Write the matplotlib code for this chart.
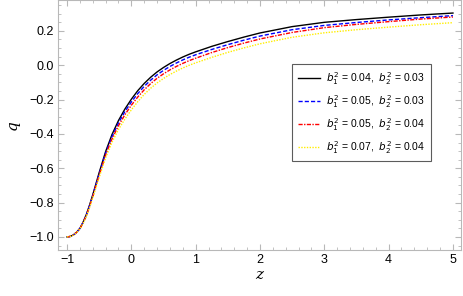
import numpy as np
import matplotlib.pyplot as plt
from matplotlib.ticker import MultipleLocator

plt.rcParams['font.family'] = ['Liberation Sans', 'DejaVu Sans']
plt.rcParams['mathtext.fontset'] = 'dejavusans'

# values
z = [-1.0, -0.95, -0.9, -0.85, -0.8, -0.75, -0.7, -0.65, -0.6, -0.55, -0.5, -0.4, -0.3,
     -0.2, -0.1, 0.0, 0.1, 0.2, 0.3, 0.4, 0.5, 0.6, 0.7, 0.8, 0.9, 1.0, 1.25, 1.5, 1.75,
     2.0, 2.5, 3.0, 3.5, 4.0, 4.5, 5.0]

q_black = [-1.0, -0.997, -0.988, -0.972, -0.95, -0.914, -0.87, -0.815, -0.755, -0.69,
           -0.625, -0.503, -0.403, -0.322, -0.255, -0.198, -0.148, -0.106, -0.07, -0.039,
           -0.013, 0.01, 0.03, 0.048, 0.064, 0.078, 0.11, 0.138, 0.164, 0.188, 0.225,
           0.25, 0.266, 0.28, 0.293, 0.304]
q_blue = [-1.0, -0.997, -0.988, -0.973, -0.951, -0.916, -0.873, -0.819, -0.76, -0.696,
          -0.633, -0.513, -0.415, -0.336, -0.27, -0.214, -0.165, -0.123, -0.087, -0.056,
          -0.03, -0.007, 0.013, 0.031, 0.047, 0.061, 0.092, 0.12, 0.146, 0.17, 0.207,
          0.232, 0.249, 0.264, 0.277, 0.289]
q_red = [-1.0, -0.997, -0.988, -0.973, -0.952, -0.918, -0.876, -0.823, -0.765, -0.703,
         -0.641, -0.524, -0.429, -0.352, -0.288, -0.233, -0.185, -0.143, -0.107, -0.076,
         -0.05, -0.027, -0.007, 0.011, 0.027, 0.041, 0.074, 0.103, 0.129, 0.153, 0.191,
         0.219, 0.238, 0.254, 0.269, 0.281]
q_yellow = [-1.0, -0.997, -0.989, -0.974, -0.954, -0.921, -0.881, -0.829, -0.773, -0.713,
            -0.653, -0.54, -0.448, -0.374, -0.313, -0.26, -0.212, -0.17, -0.134, -0.103,
            -0.077, -0.054, -0.034, -0.016, 0.0, 0.014, 0.046, 0.075, 0.101, 0.125, 0.163,
            0.189, 0.207, 0.222, 0.236, 0.248]

labels = [r"$b_1^2$ = 0.04,  $b_2^2$ = 0.03",
          r"$b_1^2$ = 0.05,  $b_2^2$ = 0.03",
          r"$b_1^2$ = 0.05,  $b_2^2$ = 0.04",
          r"$b_1^2$ = 0.07,  $b_2^2$ = 0.04"]

fig = plt.figure(figsize=(4.63, 2.96), dpi=100)
ax = fig.add_axes([58/463, 1 - 249.5/296, 403/463, 249.5/296])

ax.plot(z, q_black, color="black", lw=1.0, label=labels[0])
ax.plot(z, q_blue, color="blue", lw=1.0, ls=(0, (3, 1.5)), label=labels[1])
ax.plot(z, q_red, color="red", lw=1.0, ls=(0, (3, 1, 1, 1)), label=labels[2])
ax.plot(z, q_yellow, color="#ffee00", lw=1.0, ls=(0, (1, 1)), label=labels[3])

ax.set_xlim(-1.14, 5.125)
ax.set_ylim(-1.073, 0.38)
ax.xaxis.set_major_locator(MultipleLocator(1))
ax.xaxis.set_minor_locator(MultipleLocator(0.2))
ax.yaxis.set_major_locator(MultipleLocator(0.2))
ax.yaxis.set_minor_locator(MultipleLocator(0.05))
ax.set_yticklabels([f"{v:.1f}".replace("-", "\u2212") for v in ax.get_yticks()])

for s in ax.spines.values():
    s.set_color("#b8b8b8")
    s.set_linewidth(0.8)
ax.tick_params(which="both", direction="in", color="#b8b8b8", labelsize=9, pad=3,
               top=True, right=True)
ax.tick_params(which="major", length=4)
ax.tick_params(which="minor", length=2)

ax.set_xlabel("z", fontsize=11, family="DejaVu Serif", style="italic", labelpad=2)
ax.set_ylabel("q", fontsize=11, family="DejaVu Serif", style="italic", labelpad=7)

leg = ax.legend(loc="upper left", bbox_to_anchor=(292/463, 1 - 64/296),
                bbox_transform=fig.transFigure, borderaxespad=0, fontsize=7.5,
                frameon=True, fancybox=False, handlelength=2.1, borderpad=0.55,
                labelspacing=0.6, handletextpad=0.6)
leg.get_frame().set_edgecolor("#333333")
leg.get_frame().set_linewidth(0.8)

fig.savefig("out.png", dpi=100)
